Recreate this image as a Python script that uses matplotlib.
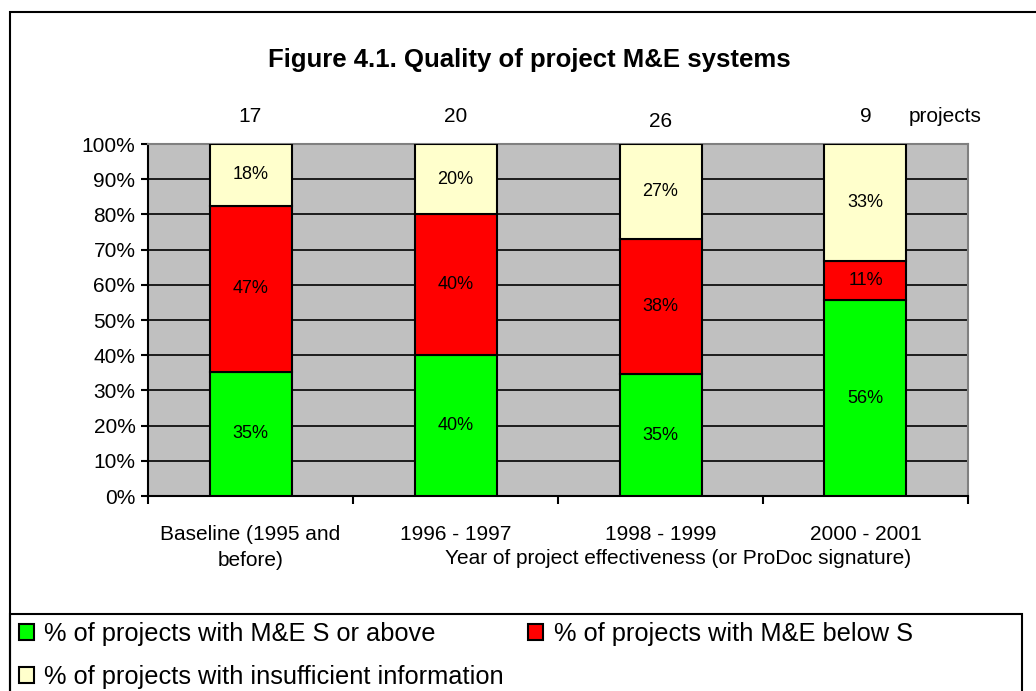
import numpy as np
import matplotlib.pyplot as plt
from matplotlib.patches import Rectangle

plt.rcParams['font.family'] = ['Liberation Sans', 'DejaVu Sans']

# Data
periods = ['Baseline (1995 and\nbefore)', '1996 - 1997', '1998 - 1999', '2000 - 2001']
n_projects = [17, 20, 26, 9]
pct_s_above = [35.3, 40.0, 34.6, 55.6]
pct_below_s = [47.1, 40.0, 38.5, 11.1]
pct_insufficient = [17.6, 20.0, 26.9, 33.3]

series = [
    ('% of projects with M&E S or above', pct_s_above, '#00FF00'),
    ('% of projects with M&E below S', pct_below_s, '#FF0000'),
    ('% of projects with insufficient information', pct_insufficient, '#FFFFCC'),
]

W, H = 1036, 691
fig = plt.figure(figsize=(W / 100, H / 100), dpi=100)

def fx(px):
    return px / W

def fy(py):
    return 1 - py / H

# outer chart frame and legend box
fig.patches.append(Rectangle((fx(10), fy(720)), fx(1100), fy(12) - fy(720), transform=fig.transFigure,
                             fill=False, edgecolor='black', lw=1.5))
fig.patches.append(Rectangle((fx(10), fy(720)), fx(1022) - fx(10), fy(614) - fy(720), transform=fig.transFigure,
                             fill=False, edgecolor='black', lw=1.5))

ax = fig.add_axes([fx(148), fy(496), fx(968) - fx(148), fy(144) - fy(496)])
ax.set_facecolor('#C0C0C0')

x = np.arange(len(periods))
bottom = np.zeros(len(periods))
handles = []
for label, vals, color in series:
    vals = np.array(vals)
    bars = ax.bar(x, vals, width=0.4, bottom=bottom, color=color, edgecolor='black', lw=1.5,
                  label=label, zorder=3)
    handles.append(bars)
    for xi, b, v in zip(x, bottom, vals):
        ax.text(xi, b + v / 2, f'{v:.0f}%', ha='center', va='center', fontsize=13, zorder=4)
    bottom += vals

ax.set_xlim(-0.5, len(periods) - 0.5)
ax.set_ylim(0, 100)
ax.set_yticks(np.arange(0, 101, 10))
ax.set_yticklabels([f'{v}%' for v in range(0, 101, 10)], fontsize=15)
ax.yaxis.grid(True, color='black', lw=1.2, zorder=1)
ax.set_axisbelow(True)

ax.set_xticks(np.arange(-0.5, len(periods), 1.0))
ax.set_xticklabels([])
ax.set_xticks(x, minor=True)
ax.set_xticklabels(periods, minor=True, fontsize=15, linespacing=1.45)
ax.tick_params(axis='x', which='minor', length=0, pad=21)
ax.tick_params(axis='x', which='major', length=6, width=1.5)
ax.tick_params(axis='y', length=5, width=1.5, pad=4)

for side in ['left', 'bottom']:
    ax.spines[side].set_linewidth(1.5)
for side in ['top', 'right']:
    ax.spines[side].set_color('#808080')
    ax.spines[side].set_linewidth(1.5)

# project counts above bars (the "26" box sits a little lower in the original)
for xi, n in zip(x, n_projects):
    dy = 16 if n == 26 else 20
    ax.annotate(str(n), (xi, 100), xytext=(0, dy), textcoords='offset points',
                ha='center', va='center', fontsize=15)
fig.text(fx(945), fy(117), 'projects', ha='center', va='center', fontsize=15)

fig.text(fx(678), fy(558), 'Year of project effectiveness (or ProDoc signature)',
         ha='center', va='center', fontsize=15)
fig.text(fx(529), fy(60), 'Figure 4.1. Quality of project M&E systems',
         ha='center', va='center', fontsize=18.5, fontweight='bold')

fig.legend([handles[0], handles[2], handles[1]],
           [series[0][0], series[2][0], series[1][0]],
           ncol=2, loc='upper left', bbox_to_anchor=(fx(19), fy(622)),
           frameon=False, fontsize=18.3, handlelength=0.6, handleheight=0.6,
           handletextpad=0.4, columnspacing=0.95, labelspacing=0.75,
           borderpad=0, borderaxespad=0)

fig.savefig('out.png', dpi=100)
